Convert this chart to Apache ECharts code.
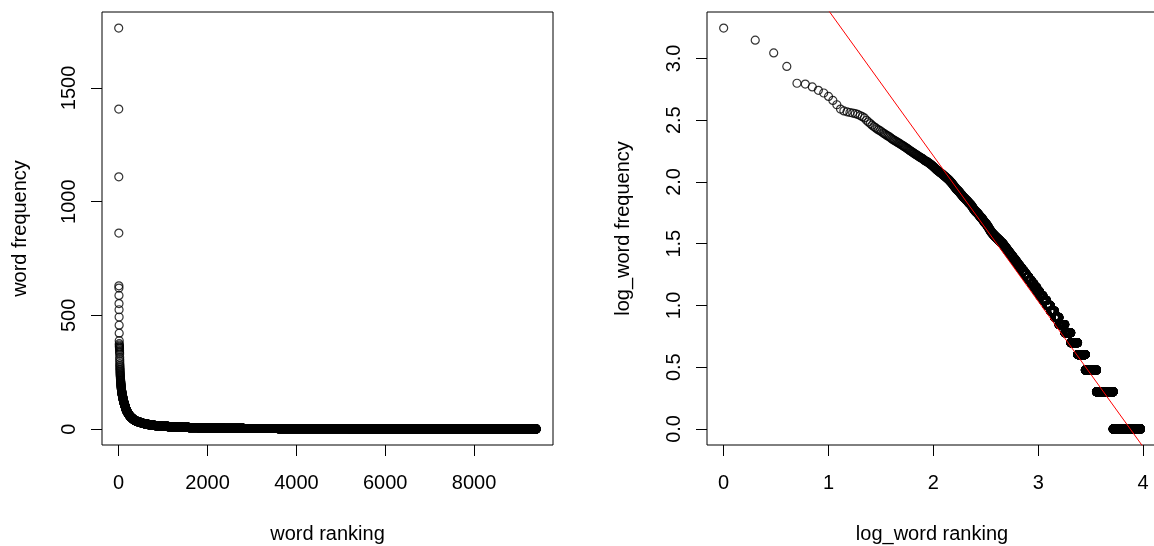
<!DOCTYPE html>
<html><head><meta charset="utf-8">
<script src="https://cdn.jsdelivr.net/npm/echarts@6/dist/echarts.min.js"></script>
<style>html,body{margin:0;padding:0;background:#fff}#c{width:1154px;height:546px}</style>
</head><body><div id="c"></div><script>
// word frequency of ranks 1..150 (one value per rank)
const topFreq = [
  1763,1407,1109,862,630,620,588,552,525,493,
  457,422,389,376,370,365,361,357,352,345,
  338,330,316,306,297,288,281,275,269,264,
  260,255,250,246,242,238,235,232,228,224,
  221,218,216,213,211,208,206,204,201,199,
  197,195,193,191,189,187,185,183,181,179,
  178,176,174,173,171,170,168,167,166,164,
  163,162,160,159,158,157,156,155,154,153,
  151,150,149,148,147,147,146,145,144,143,
  142,141,140,139,138,137,136,135,134,133,
  132,131,130,129,128,127,126,125,124,124,
  123,122,121,121,120,119,119,118,117,117,
  116,115,115,114,113,113,112,111,111,110,
  109,109,108,108,107,106,106,105,105,104,
  103,103,102,102,101,100,100,99,98,98
];
// frequencies shared by several words: frequency level and the first rank that has it
const levelFreq = [97,96,95,94,93,92,91,90,89,88,87,86,85,84,83,82,81,80,79,78,77,76,75,74,73,72,71,70,69,68,67,66,65,64,63,62,61,60,59,58,57,56,55,54,53,52,51,50,49,48,47,46,45,44,43,42,41,40,39,38,37,36,35,34,33,32,31,30,29,28,27,26,25,24,23,22,21,20,19,18,17,16,15,14,13,12,11,10,9,8,7,6,5,4,3,2,1];
const levelFirstRank = [151,152,154,155,156,158,160,161,163,164,166,169,171,174,176,178,180,182,184,187,189,191,194,197,200,203,206,210,213,216,220,224,227,231,234,237,239,242,246,250,254,260,266,270,275,279,285,292,297,301,306,313,320,326,332,338,343,348,356,364,374,386,399,413,428,443,460,473,487,502,518,536,554,574,596,619,644,671,702,735,772,813,859,911,970,1030,1110,1200,1305,1430,1575,1790,2040,2370,2810,3590,5180];
const lastRank = 9400;
// fitted line on the log-log plot: intercept, slope
const fitCoef = [4.567, -1.178];
// tick labels
const xTicksLeft = [0,2000,4000,6000,8000];
const yTicksLeft = [0,500,1000,1500];
const xTicksRight = [0,1,2,3,4];
const yTicksRight = [0,0.5,1,1.5,2,2.5,3];

const ranks = [], freqs = [];
topFreq.forEach((f,i)=>{ranks.push(i+1);freqs.push(f);});
levelFreq.forEach((f,i)=>{
  const end = i+1 < levelFirstRank.length ? levelFirstRank[i+1]-1 : lastRank;
  for (let r = levelFirstRank[i]; r <= end; r++) { ranks.push(r); freqs.push(f); }
});
const linData = ranks.map((r,i)=>[r,freqs[i]]);
const logData = ranks.map((r,i)=>[Math.log10(r),Math.log10(freqs[i])]);

function pad(arr){let mn=Infinity,mx=-Infinity;arr.forEach(v=>{if(v<mn)mn=v;if(v>mx)mx=v;});const d=(mx-mn)*0.04;return [mn-d,mx+d];}
const xl = pad(ranks), yl = pad(freqs);
const xr = pad(logData.map(p=>p[0])), yr = pad(logData.map(p=>p[1]));

const FONT = "'Liberation Sans', Arial, sans-serif";
const txt = {fontSize:20,color:'#000',fontFamily:FONT};
function xAxis(gi, rng, ticks, name, fmt){
  return {type:'value',gridIndex:gi,min:rng[0],max:rng[1],position:'bottom',
    axisLine:{show:false,onZero:false},splitLine:{show:false},
    axisTick:{show:true,length:11,lineStyle:{color:'#000',width:1},customValues:ticks},
    axisLabel:Object.assign({customValues:ticks,margin:28,formatter:fmt},txt),
    name:name,nameLocation:'middle',nameGap:79,nameTextStyle:txt};
}
function yAxis(gi, rng, ticks, name, fmt, gap){
  return {type:'value',gridIndex:gi,min:rng[0],max:rng[1],position:'left',
    axisLine:{show:false,onZero:false},splitLine:{show:false},
    axisTick:{show:true,length:11,lineStyle:{color:'#000',width:1},customValues:ticks},
    axisLabel:Object.assign({customValues:ticks,margin:23,rotate:90,formatter:fmt},txt),
    name:name,nameLocation:'middle',nameGap:gap,nameTextStyle:txt};
}
const pointStyle = {color:'rgba(0,0,0,0)',borderColor:'#000',borderWidth:1.2};
const gridBase = {top:12,height:433,show:true,borderColor:'#000',borderWidth:1,backgroundColor:'transparent',containLabel:false,outerBoundsMode:'none'};
const chart = echarts.init(document.getElementById('c'),null,{renderer:'canvas'});
chart.setOption({
  animation:false,
  backgroundColor:'#fff',
  grid:[
    Object.assign({left:102,width:451},gridBase),
    Object.assign({left:707,width:450},gridBase)
  ],
  xAxis:[
    xAxis(0,xl,xTicksLeft,'word ranking',v=>String(v)),
    xAxis(1,xr,xTicksRight,'log_word ranking',v=>String(v))
  ],
  yAxis:[
    yAxis(0,yl,yTicksLeft,'word frequency',v=>String(v),72),
    yAxis(1,yr,yTicksRight,'log_word frequency',v=>Number(v).toFixed(1),74)
  ],
  series:[
    {type:'scatter',xAxisIndex:0,yAxisIndex:0,data:linData,symbol:'circle',symbolSize:8,itemStyle:pointStyle,progressive:0,large:false,silent:true},
    {type:'scatter',xAxisIndex:1,yAxisIndex:1,data:logData,symbol:'circle',symbolSize:8,itemStyle:pointStyle,progressive:0,large:false,silent:true},
    {type:'line',xAxisIndex:1,yAxisIndex:1,symbol:'none',clip:true,silent:true,
      data:[[xr[0],fitCoef[0]+fitCoef[1]*xr[0]],[xr[1],fitCoef[0]+fitCoef[1]*xr[1]]],
      lineStyle:{color:'#ff0000',width:1}}
  ]
});
</script></body></html>
